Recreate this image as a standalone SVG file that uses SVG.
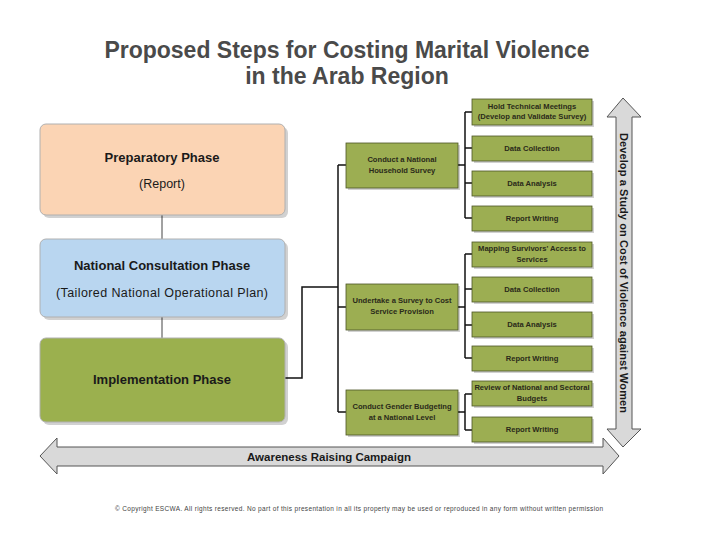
<svg xmlns="http://www.w3.org/2000/svg" width="720" height="540" viewBox="0 0 720 540">
<defs>
<style>
.title{font-family:"Liberation Sans",Arial,sans-serif;font-size:23px;font-weight:bold;fill:#4a4a4a;text-anchor:middle}
.big{font-family:"Liberation Sans",Arial,sans-serif;font-size:13px;font-weight:bold;fill:#1a1a1a;text-anchor:middle}
.sub{font-family:"Liberation Sans",Arial,sans-serif;font-size:12.5px;fill:#1a1a1a;text-anchor:middle}
.sm{font-family:"Liberation Sans",Arial,sans-serif;font-size:7.6px;font-weight:bold;fill:#2a2a1a;text-anchor:middle}
.arr{font-family:"Liberation Sans",Arial,sans-serif;font-size:11px;font-weight:bold;fill:#1a1a1a;text-anchor:middle}
.copy{font-family:"Liberation Sans",Arial,sans-serif;font-size:6.5px;fill:#444}
.phase{stroke:#b0b0b0;stroke-width:1}
.shadow{fill:#000;opacity:0.18}
.box{fill:#9cae52;stroke:#4d5626;stroke-width:0.8}
.line{fill:none;stroke:#111;stroke-width:1.5}
.big-arrow{fill:#d9d9d9;stroke:#555;stroke-width:1}
</style>
</defs>

<text class="title" x="347" y="58">Proposed Steps for Costing Marital Violence</text>
<text class="title" x="347" y="84">in the Arab Region</text>

<g id="connectors">
  <line class="line" x1="162" y1="215" x2="162" y2="239" style="stroke:#444;stroke-width:1"/>
  <line class="line" x1="162" y1="317" x2="162" y2="338" style="stroke:#444;stroke-width:1"/>
  <polyline class="line" points="285,378 302,378 302,287 338,287"/>
  <line class="line" x1="338" y1="165" x2="338" y2="412"/>
  <line class="line" x1="338" y1="165" x2="346" y2="165"/>
  <line class="line" x1="338" y1="307" x2="346" y2="307"/>
  <line class="line" x1="338" y1="412" x2="346" y2="412"/>
  <line class="line" x1="458" y1="165" x2="465" y2="165"/>
  <line class="line" x1="465" y1="112" x2="465" y2="218"/>
  <line class="line" x1="465" y1="112" x2="472" y2="112"/>
  <line class="line" x1="465" y1="148" x2="472" y2="148"/>
  <line class="line" x1="465" y1="183" x2="472" y2="183"/>
  <line class="line" x1="465" y1="218" x2="472" y2="218"/>
  <line class="line" x1="458" y1="307" x2="465" y2="307"/>
  <line class="line" x1="465" y1="254" x2="465" y2="358"/>
  <line class="line" x1="465" y1="254" x2="472" y2="254"/>
  <line class="line" x1="465" y1="289" x2="472" y2="289"/>
  <line class="line" x1="465" y1="325" x2="472" y2="325"/>
  <line class="line" x1="465" y1="358" x2="472" y2="358"/>
  <line class="line" x1="458" y1="412" x2="465" y2="412"/>
  <line class="line" x1="465" y1="394" x2="465" y2="430"/>
  <line class="line" x1="465" y1="394" x2="472" y2="394"/>
  <line class="line" x1="465" y1="430" x2="472" y2="430"/>
</g>

<g id="preparatory">
  <rect class="shadow" x="43" y="127" width="245" height="91" rx="6"/>
  <rect class="phase" x="40" y="124" width="245" height="91" rx="6" fill="#fbd4b4"/>
  <text class="big" x="162" y="162">Preparatory Phase</text>
  <text class="sub" x="162" y="188">(Report)</text>
</g>
<g id="consultation">
  <rect class="shadow" x="43" y="242" width="245" height="78" rx="6"/>
  <rect class="phase" x="40" y="239" width="245" height="78" rx="6" fill="#b9d6f0"/>
  <text class="big" x="162" y="270">National Consultation Phase</text>
  <text class="sub" x="162" y="297" textLength="212">(Tailored National Operational Plan)</text>
</g>
<g id="implementation">
  <rect class="shadow" x="43" y="341" width="245" height="84" rx="6"/>
  <rect class="phase" x="40" y="338" width="245" height="84" rx="6" fill="#9bb04e"/>
  <text class="big" x="162" y="384">Implementation Phase</text>
</g>

<g id="mid-household">
  <rect class="shadow" x="348" y="145" width="112" height="45"/>
  <rect class="box" x="346" y="143" width="112" height="45"/>
  <text class="sm" x="402" y="162">Conduct a National</text>
  <text class="sm" x="402" y="173">Household Survey</text>
</g>
<g id="mid-service">
  <rect class="shadow" x="348" y="286" width="112" height="46"/>
  <rect class="box" x="346" y="284" width="112" height="46"/>
  <text class="sm" x="402" y="303">Undertake a Survey to Cost</text>
  <text class="sm" x="402" y="314">Service Provision</text>
</g>
<g id="mid-budgeting">
  <rect class="shadow" x="348" y="392" width="112" height="45"/>
  <rect class="box" x="346" y="390" width="112" height="45"/>
  <text class="sm" x="402" y="409">Conduct Gender Budgeting</text>
  <text class="sm" x="402" y="420">at a National Level</text>
</g>

<g id="r1">
  <rect class="shadow" x="474" y="101" width="120" height="26"/>
  <rect class="box" x="472" y="99" width="120" height="26"/>
  <text class="sm" x="532" y="109">Hold Technical Meetings</text>
  <text class="sm" x="532" y="119">(Develop and Validate Survey)</text>
</g>
<g id="r2">
  <rect class="shadow" x="474" y="138" width="120" height="25"/>
  <rect class="box" x="472" y="136" width="120" height="25"/>
  <text class="sm" x="532" y="151">Data Collection</text>
</g>
<g id="r3">
  <rect class="shadow" x="474" y="173" width="120" height="25"/>
  <rect class="box" x="472" y="171" width="120" height="25"/>
  <text class="sm" x="532" y="186">Data Analysis</text>
</g>
<g id="r4">
  <rect class="shadow" x="474" y="208" width="120" height="25"/>
  <rect class="box" x="472" y="206" width="120" height="25"/>
  <text class="sm" x="532" y="221">Report Writing</text>
</g>
<g id="r5">
  <rect class="shadow" x="474" y="244" width="120" height="25"/>
  <rect class="box" x="472" y="242" width="120" height="25"/>
  <text class="sm" x="532" y="251">Mapping Survivors' Access to</text>
  <text class="sm" x="532" y="262">Services</text>
</g>
<g id="r6">
  <rect class="shadow" x="474" y="279" width="120" height="25"/>
  <rect class="box" x="472" y="277" width="120" height="25"/>
  <text class="sm" x="532" y="292">Data Collection</text>
</g>
<g id="r7">
  <rect class="shadow" x="474" y="314" width="120" height="25"/>
  <rect class="box" x="472" y="312" width="120" height="25"/>
  <text class="sm" x="532" y="327">Data Analysis</text>
</g>
<g id="r8">
  <rect class="shadow" x="474" y="348" width="120" height="25"/>
  <rect class="box" x="472" y="346" width="120" height="25"/>
  <text class="sm" x="532" y="361">Report Writing</text>
</g>
<g id="r9">
  <rect class="shadow" x="474" y="383" width="120" height="25"/>
  <rect class="box" x="472" y="381" width="120" height="25"/>
  <text class="sm" x="532" y="390">Review of National and Sectoral</text>
  <text class="sm" x="532" y="401">Budgets</text>
</g>
<g id="r10">
  <rect class="shadow" x="474" y="419" width="120" height="25"/>
  <rect class="box" x="472" y="417" width="120" height="25"/>
  <text class="sm" x="532" y="432">Report Writing</text>
</g>

<g id="study-arrow">
  <polygon class="big-arrow" points="623,98 641,117 632,117 632,429 641,429 623,447 607,429 616,429 616,117 607,117"/>
  <text class="arr" transform="translate(620,273) rotate(90)" textLength="280">Develop a Study on Cost of Violence against Women</text>
</g>

<g id="awareness-arrow">
  <polygon class="big-arrow" points="40,456 57,438 57,447 603,447 603,438 619,456 603,474 603,466 57,466 57,474"/>
  <text class="big" x="329" y="461" style="font-size:11.5px">Awareness Raising Campaign</text>
</g>

<text class="copy" x="115" y="511" textLength="488">© Copyright ESCWA. All rights reserved. No part of this presentation in all its property may be used or reproduced in any form without written permission</text>
</svg>
